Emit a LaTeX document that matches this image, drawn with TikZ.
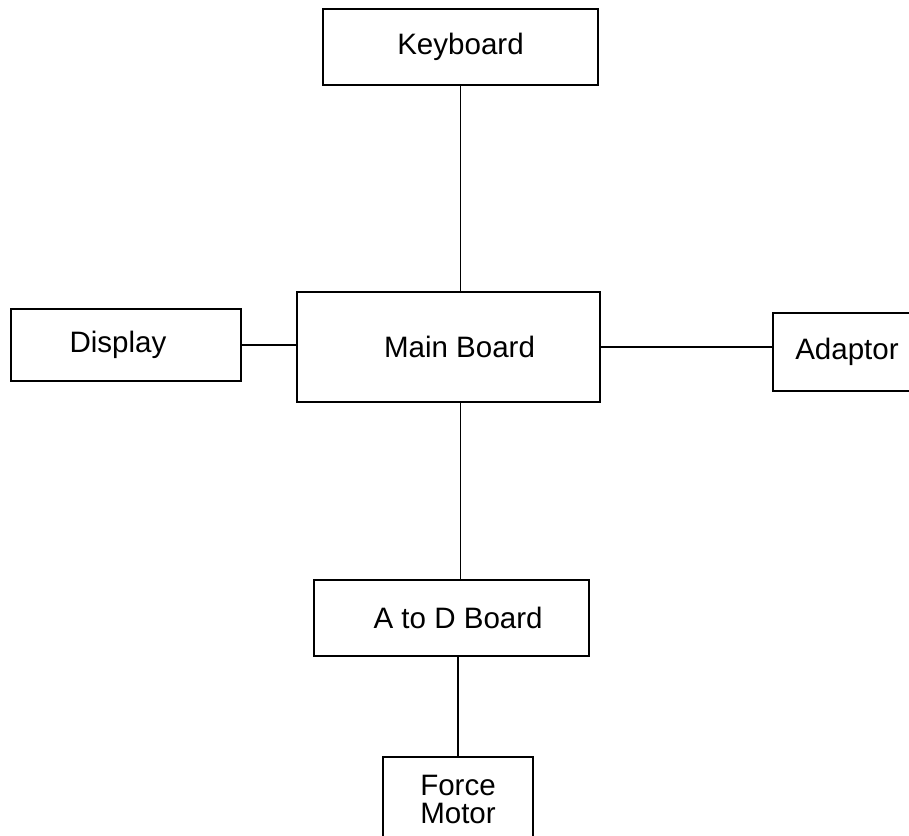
\documentclass[tikz,border=0pt]{standalone}
\usepackage{fontspec}
\setmainfont{Liberation Sans}
\usetikzlibrary{positioning}

\tikzset{
  unit/.style={draw=black, line width=1.6pt, fill=white, align=center,
               font=\fontsize{21}{20}\selectfont},
  wire/.style={black, line width=1.2pt}
}

\begin{document}
\begin{tikzpicture}[x=0.025cm, y=-0.025cm]

% Page frame
\useasboundingbox (0,0) rectangle (909,836);
\clip (0,0) rectangle (909,836);

% Boards
\node[unit, minimum width=6.875cm, minimum height=1.9cm] (keyboard) at (460.5,47) {Keyboard};
\node[unit, minimum width=7.575cm, minimum height=2.75cm] (main) at (448.5,347) {\hspace{0.55cm}Main Board};
\node[unit, minimum width=5.75cm, minimum height=1.8cm] (display) at (126,345) {Display\hspace{0.4cm}};
\node[unit, minimum width=3.8cm, minimum height=1.95cm] (adaptor) at (849,352) {\hspace{-0.1cm}Adaptor};
\node[unit, minimum width=6.875cm, minimum height=1.9cm] (atod) at (451.5,618) {\hspace{0.33cm}A to D Board};
\node[unit, minimum width=3.75cm, minimum height=2.125cm] (motor) at (458,799.5) {Force\\Motor};

% Wiring
\draw[wire] (keyboard.south) -- (keyboard.south |- main.north);
\draw[wire] (display.east) -- (display.east -| main.west);
\draw[wire] (main.east) -- (main.east -| adaptor.west);
\draw[wire] (main.south -| keyboard.south) -- (atod.north -| keyboard.south);
\draw[wire] (motor.north |- atod.south) -- (motor.north);

\end{tikzpicture}
\end{document}
